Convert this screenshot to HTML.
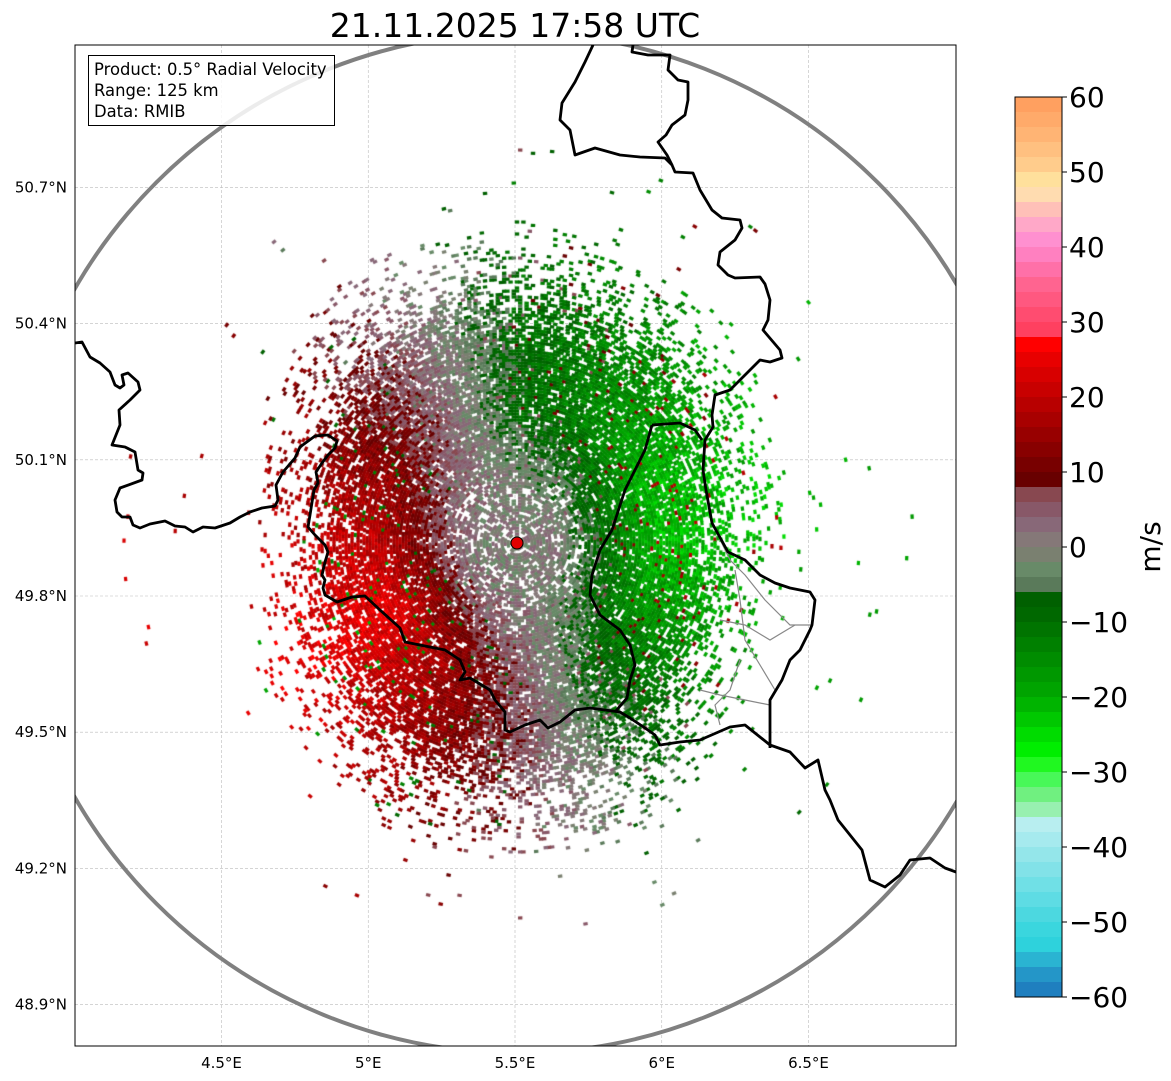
<!DOCTYPE html>
<html><head><meta charset="utf-8">
<style>
html,body{margin:0;padding:0;background:#fff;}
body{width:1171px;height:1081px;position:relative;overflow:hidden;font-family:"DejaVu Sans","Liberation Sans",sans-serif;}
svg{position:absolute;left:0;top:0;}
canvas{position:absolute;left:75px;top:45px;}
</style></head>
<body>
<svg id="base" width="1171" height="1081">
  <text x="515" y="37" font-size="33" text-anchor="middle" fill="#000">21.11.2025 17:58 UTC</text>
  <rect x="75" y="45" width="881" height="1001" fill="#fff"/>
  <g id="grid"></g>
</svg>
<canvas id="radar" width="881" height="1001"></canvas>
<svg id="over" width="1171" height="1081">
  <defs><clipPath id="clip"><rect x="75" y="45" width="881" height="1001"/></clipPath></defs>
  <g clip-path="url(#clip)">
    <circle cx="517" cy="543" r="510" fill="none" stroke="#808080" stroke-width="4"/>
    <g fill="none" stroke="#888" stroke-width="1.2">
      <polyline points="712,523 730,560 745,575 765,600 790,625 812,625"/>
      <polyline points="735,570 740,600 745,640 760,665 775,690"/>
      <polyline points="720,620 745,625 770,640 795,625"/>
      <polyline points="740,660 730,690 715,705 720,725"/>
      <polyline points="700,690 720,695 745,700 770,705"/>
    </g>
    <g fill="none" stroke="#000" stroke-width="2.8" stroke-linejoin="round">
      <polyline points="75,343 82,342 90,357 100,363 110,372 115,385 120,388 124,385 122,375 128,373 138,382 140,390 130,400 119,410 120,425 112,445 125,447 135,452 138,470 143,473 142,480 120,488 115,500 117,512 122,517 130,517 133,525 140,528 150,524 165,521 175,526 185,527 193,532 203,527 215,528 230,523 240,517 250,512 262,508 275,506 278,500 276,485 283,472 295,458 300,447 315,436 328,435 337,441 335,448 328,455 322,463 316,472 318,483 314,490 310,515 308,527 315,535 325,545 328,552 325,562 322,575 325,580 323,588 325,595 337,602 352,597 365,596 380,610 400,628 405,642 420,645 445,650 460,660 465,672 460,680 470,678 490,690 495,700 505,712 505,730 510,732 525,725 540,720 548,728 560,722 575,710 590,708 605,710 620,712 630,718 645,728 655,735 660,745 680,742 700,740 730,727 745,725 770,745 790,752 805,768 818,760 825,790 830,800 838,820 850,835 862,850 870,880 885,887 900,875 910,860 930,858 945,868 956,872"/>
      <polyline points="593,45 585,62 575,82 562,103 560,120 570,130 575,155 595,148 620,155 640,157 665,158 672,165 675,172 693,173 700,190 712,210 722,218 740,220 742,228 735,240 720,252 718,265 728,275 735,278 760,277 765,284 770,300 768,320 763,330 780,350 782,358 770,362 760,360 745,375 730,390 715,395 712,415 713,427 705,440 703,470 706,490 712,523 728,552 745,560 760,575 775,583 790,588 810,592 815,600 812,625 810,630 800,650 790,660 782,680 770,700 770,748"/>
      <polyline points="633,45 632,52 648,55 670,55 668,70 678,80 688,82 688,100 685,115 672,125 666,135 658,142 667,155 672,165"/>
      <polyline points="652,425 680,423 695,430 702,440"/>
      <polyline points="652,425 645,450 625,490 612,530 600,550 592,575 590,595 600,615 620,630 630,645 635,665 630,680 627,698 615,712"/>
    </g>
  </g>
  <rect x="75" y="45" width="881" height="1001" fill="none" stroke="#000" stroke-width="1"/>
  <circle cx="517" cy="543" r="6" fill="#e00000" stroke="#000" stroke-width="1"/>
  <g>
    <rect x="88.5" y="55.5" width="246" height="70" fill="#fff" fill-opacity="0.85" stroke="#000" stroke-width="1"/>
    <text x="94" y="75" font-size="16.4">Product: 0.5° Radial Velocity</text>
    <text x="94" y="96" font-size="16.4">Range: 125 km</text>
    <text x="94" y="117" font-size="16.4">Data: RMIB</text>
  </g>
  <g id="ticks"></g>
  <g id="cbar"></g>
  <text x="0" y="0" font-size="28" text-anchor="middle" transform="translate(1160,547) rotate(-90)">m/s</text>
</svg>
<script>
// ---- axis data ----
const lonTicks=[4.5,5,5.5,6,6.5];
const lonLabels=["4.5°E","5°E","5.5°E","6°E","6.5°E"];
const latTicks=[50.7,50.4,50.1,49.8,49.5,49.2,48.9];
const latLabels=["50.7°N","50.4°N","50.1°N","49.8°N","49.5°N","49.2°N","48.9°N"];
const cbarTicks=[60,50,40,30,20,10,0,-10,-20,-30,-40,-50,-60];
const cbarLabels=["60","50","40","30","20","10","0","\u221210","\u221220","\u221230","\u221240","\u221250","\u221260"];
// colour bands, 2 m/s each, from +60 (top) down to -60
const bandColors=[
"#ffa060","#ffaa6a","#ffb474","#ffc080","#ffcc8c","#ffe09c","#ffdcb0","#ffc0b8","#ffa8c8","#ff90d0","#ff80c0","#ff70a8","#ff6490","#ff5880","#ff4c70","#ff4060",
"#ff0000","#e80000","#d80000","#c80000","#b80000","#a80000","#980000","#880000","#780000","#680000",
"#884850","#885868","#886878","#857878","#7a8070","#688a68","#5a7a5a",
"#006000","#006800","#007400","#008000","#008c00","#009800","#00a400","#00b400","#00c800","#00dc00","#00ee00","#20f820","#48f858","#70f080","#98f0b0",
"#b8eef0","#a6eaee","#94e6ea","#82e2e8","#70e0e6","#5edce4","#4cd8e0","#3ad6de","#2ed2dc","#2ab4d2","#2496c8","#1f7fbf"];
// radar velocity field by azimuth (deg from north)
const azimuths=[0,30,60,90,120,150,180,210,240,270,300,330,360];
const velocities=[-9,-14,-20,-22,-16,-7,6,16,24,20,13,4,-9];
const extents=[260,250,230,215,215,250,260,250,230,205,230,255,260];

const lon0=5.5, x0=515, pxLon=293.5;
const lat0=49.8, y0=596, pxLat=454;
const xS=lon=>x0+(lon-lon0)*pxLon;
const yS=lat=>y0-(lat-lat0)*pxLat;
const cY=v=>547-v*7.5;
const NS="http://www.w3.org/2000/svg";
function mk(tag,attrs,parent){const e=document.createElementNS(NS,tag);for(const k in attrs)e.setAttribute(k,attrs[k]);parent.appendChild(e);return e;}

const grid=document.getElementById('grid');
const ticks=document.getElementById('ticks');
lonTicks.forEach((l,i)=>{
  const x=xS(l);
  const g=mk('line',{x1:x,x2:x,y1:45,y2:1046,stroke:'#bbb','stroke-width':0.6,'stroke-dasharray':'3,2'},grid);
  
  
  const t=mk('text',{x:x,y:1068,'font-size':15,'text-anchor':'middle'},ticks);
  t.textContent=lonLabels[i];
  
  
});
latTicks.forEach((l,i)=>{
  const y=yS(l);
  const g=mk('line',{x1:75,x2:956,y1:y,y2:y,stroke:'#bbb','stroke-width':0.6,'stroke-dasharray':'3,2'},grid);
  
  
  const t=mk('text',{x:67,y:y+5,'font-size':15,'text-anchor':'end'},ticks);
  t.textContent=latLabels[i];
  
  
});
// colorbar
const cb=document.getElementById('cbar');
bandColors.forEach((c,i)=>{
  const vTop=60-i*2;
  const r=mk('rect',{x:1015,y:cY(vTop),width:47,height:15.5,fill:c},cb);
  
  
});
mk('rect',{x:1015,y:cY(60),width:47,height:cY(-60)-cY(60),fill:'none',stroke:'#000','stroke-width':1},cb);
cbarTicks.forEach((v,i)=>{
  mk('line',{x1:1062,x2:1067,y1:cY(v),y2:cY(v),stroke:'#000'},cb);
  const t=mk('text',{x:1069,y:cY(v)+10,'font-size':28},cb);
  t.textContent=cbarLabels[i];
  
  
});

// radar echoes
function interp(arr,az){
  let a=((az%360)+360)%360;
  for(let i=0;i<azimuths.length-1;i++){
    if(a>=azimuths[i]&&a<=azimuths[i+1]){const f=(a-azimuths[i])/(azimuths[i+1]-azimuths[i]);return arr[i]+(arr[i+1]-arr[i])*f;}
  }
  return arr[0];
}
function colorFor(v){let i=Math.floor((60-v)/2);i=Math.max(0,Math.min(bandColors.length-1,i));return bandColors[i];}
function hash(a,b){let h=(a*374761393+b*668265263)|0;h=(h^(h>>>13))*1274126177|0;h=h^(h>>>16);return (h>>>0)/4294967296;}
const ctx=document.getElementById('radar').getContext('2d');
const cx=517-75, cy=543-45;
let ri=0;
for(let r=6;r<400;r+=3,ri++){
  const n=Math.max(12,Math.floor(2*Math.PI*r/3.2));
  for(let j=0;j<n;j++){
    const az=j*360/n;
    const ext=interp(extents,az);
    const h1=hash(ri,j), h2=hash(j+999,ri+7), h3=hash(ri*3+1,j*5+2);
    let p;
    const q=r/ext;
    if(q<0.75)p=0.85;else if(q<1)p=0.85-(q-0.75)*2.4;else if(q<1.25)p=0.25-(q-1)*0.92;else p=0.003;
    if(r<70)p=0.65;
    if(h1>p)continue;
    let v=interp(velocities,az);
    let f=Math.min(1,Math.max(0,(r-40)/100));
    v=v*f+(h2-0.5)*8;
    if(h3<0.04)v=-v*0.8;
    const rad=az*Math.PI/180;
    const x=cx+Math.sin(rad)*r, y=cy-Math.cos(rad)*r;
    ctx.fillStyle=colorFor(v);
    ctx.save();ctx.translate(x,y);ctx.rotate(rad);
    ctx.fillRect(-2.2,-1.6,4.4,3.2);
    ctx.restore();
  }
}
</script>
</body></html>
